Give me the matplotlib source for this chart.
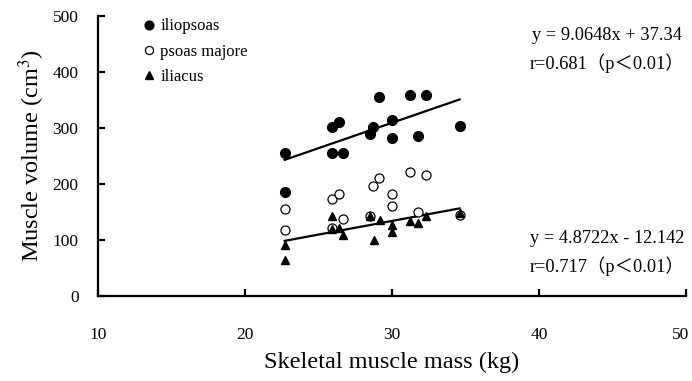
import matplotlib
matplotlib.use("Agg")
import matplotlib.pyplot as plt
import matplotlib.transforms as mtransforms
import numpy as np

plt.rcParams['font.family'] = ['Liberation Serif', 'Noto Sans CJK JP']
plt.rcParams['mathtext.fontset'] = 'stix'

# skeletal muscle mass (kg) and muscle volumes (cm3)
iliopsoas_x = [22.7, 22.7, 25.9, 26.4, 25.9, 26.7, 28.7, 28.5, 29.1, 30.0, 30.0, 31.2, 32.3, 31.8, 34.6]
iliopsoas_y = [255, 185, 301, 310, 255, 255, 301, 290, 355, 314, 283, 359, 359, 286, 304]

psoas_x = [22.7, 22.7, 25.9, 26.4, 26.7, 25.9, 28.5, 28.7, 29.1, 30.0, 30.0, 31.2, 32.3, 31.8, 34.6]
psoas_y = [156, 117, 174, 182, 138, 121, 143, 197, 210, 183, 160, 221, 216, 150, 145]

iliacus_x = [22.7, 22.7, 25.9, 25.9, 26.4, 26.7, 28.5, 29.2, 28.8, 30.0, 30.0, 31.2, 31.8, 32.3, 34.6]
iliacus_y = [91, 65, 143, 119, 121, 109, 143, 136, 100, 127, 115, 134, 131, 143, 149]

fit_upper = (9.0648, 37.34)
fit_lower = (4.8722, -12.142)
x_ticks = [10, 20, 30, 40, 50]
y_ticks = [0, 100, 200, 300, 400, 500]

fig = plt.figure(figsize=(6.92, 3.81), dpi=100)
ax = fig.add_axes([0.1416, 0.2231, 0.8497, 0.7349])

ax.plot(iliopsoas_x, iliopsoas_y, 'o', color='black', ms=7, label='iliopsoas', zorder=3)
ax.plot(psoas_x, psoas_y, 'o', mfc='white', mec='black', mew=0.9, ms=6.5, label='psoas majore', zorder=3)
ax.plot(iliacus_x, iliacus_y, '^', color='black', ms=6, label='iliacus', zorder=4)

# regression lines over the data range
for (m, c), xs in [(fit_upper, iliopsoas_x), (fit_lower, iliacus_x)]:
    xr = np.array([min(xs), max(xs)])
    ax.plot(xr, m * xr + c, color='black', lw=1.6, zorder=2)

ax.set_xlim(10, 50)
ax.set_ylim(0, 500)
ax.set_xticks(x_ticks)
ax.set_yticks(y_ticks)
ax.spines['top'].set_visible(False)
ax.spines['right'].set_visible(False)
ax.spines['left'].set_linewidth(1.6)
ax.spines['bottom'].set_linewidth(1.6)
ax.tick_params(axis='both', direction='in', length=5, width=1.6, labelsize=12.5)
ax.tick_params(axis='x', pad=22)
ax.tick_params(axis='y', pad=14)

# nudge the last x label so it stays inside the figure
last_lbl = ax.get_xticklabels()[-1]
last_lbl.set_transform(last_lbl.get_transform() +
                       mtransforms.ScaledTranslation(-4 / 72, 0, fig.dpi_scale_trans))

ax.set_xlabel('Skeletal muscle mass (kg)', fontsize=17.5, labelpad=7)
ax.set_ylabel('Muscle volume (cm$^3$)', fontsize=17.5, labelpad=4)

ax.legend(loc='upper left', bbox_to_anchor=(0.045, 1.045), frameon=False, fontsize=12,
          handletextpad=0.05, labelspacing=0.55, markerscale=0.9, handlelength=1.2)

ax.text(0.866, 0.879, 'y = 9.0648x + 37.34\nr=0.681（p＜0.01）', transform=ax.transAxes,
        ha='center', va='center', fontsize=13.2, linespacing=1.6)
ax.text(0.866, 0.154, 'y = 4.8722x - 12.142\nr=0.717（p＜0.01）', transform=ax.transAxes,
        ha='center', va='center', fontsize=13.2, linespacing=1.6)

fig.savefig('out.png', dpi=100)
